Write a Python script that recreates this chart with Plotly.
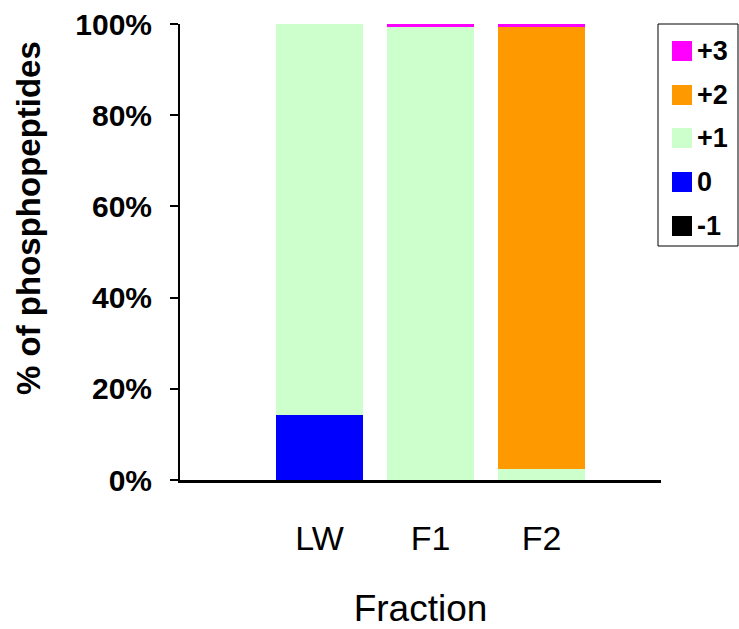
import plotly.graph_objects as go

# Share of phosphopeptides per net charge state in each fraction (%)
fractions = ["LW", "F1", "F2"]
charge_labels = ["-1", "0", "+1", "+2", "+3"]
charge_colors = ["#000000", "#0000FF", "#CCFFCC", "#FF9900", "#FF00FF"]
minus1 = [0.0, 0.0, 0.0]
zero = [14.3, 0.0, 0.0]
plus1 = [85.7, 99.4, 2.4]
plus2 = [0.0, 0.0, 97.0]
plus3 = [0.0, 0.6, 0.6]
y_ticks = [0, 20, 40, 60, 80, 100]
y_tick_labels = ["0%", "20%", "40%", "60%", "80%", "100%"]

series = [minus1, zero, plus1, plus2, plus3]

W, H = 739, 629
L, R, T, B = 180, 78, 24, 149
FONT = "Liberation Sans, Arial, sans-serif"

fig = go.Figure()
for label, color, values in zip(charge_labels, charge_colors, series):
    fig.add_trace(go.Bar(
        x=fractions, y=values, name=label, width=0.78,
        marker=dict(color=color, line=dict(width=0)),
        showlegend=False, cliponaxis=False,
    ))

fig.update_layout(
    width=W, height=H,
    margin=dict(l=L, r=R, t=T, b=B, autoexpand=False),
    barmode="stack",
    plot_bgcolor="white", paper_bgcolor="white",
    font=dict(family=FONT, color="black"),
    xaxis=dict(
        type="category", range=[-1.257, 3.076],
        showline=True, linecolor="black", linewidth=3,
        ticks="", showgrid=False, zeroline=False,
        tickfont=dict(size=34), ticklabelstandoff=26,
        title=dict(text="Fraction", font=dict(size=37), standoff=42),
        automargin=False,
    ),
    yaxis=dict(
        range=[0, 100], tickvals=y_ticks, ticktext=y_tick_labels,
        showline=True, linecolor="black", linewidth=2,
        ticks="outside", ticklen=8, tickwidth=1.5, tickcolor="black",
        showgrid=False, zeroline=False,
        tickfont=dict(size=30, weight="bold"), ticklabelstandoff=12,
        automargin=False,
    ),
)

# Pixel-to-paper helpers for the legend and the y title
pw, ph = W - L - R, H - T - B


def px_x(p):
    return (p - L) / pw


def px_y(p):
    return (H - B - p) / ph


fig.add_annotation(xref="paper", yref="paper", x=px_x(28), y=px_y(218),
                   text="% of phosphopeptides", textangle=-90, showarrow=False,
                   xanchor="center", yanchor="middle",
                   font=dict(size=33, weight="bold"))

box_left, box_top, box_right, box_bottom = 658, 24, 738, 246
fig.add_shape(type="rect", xref="paper", yref="paper",
              x0=px_x(box_left), x1=px_x(box_right),
              y0=px_y(box_bottom), y1=px_y(box_top),
              line=dict(color="black", width=1), fillcolor="white")

row_centers = [51, 95, 138, 182, 226]
legend_order = list(range(len(charge_labels)))[::-1]
for yc, idx in zip(row_centers, legend_order):
    fig.add_shape(type="rect", xref="paper", yref="paper",
                  x0=px_x(672), x1=px_x(692),
                  y0=px_y(yc + 10), y1=px_y(yc - 10),
                  line=dict(width=0), fillcolor=charge_colors[idx])
    fig.add_annotation(xref="paper", yref="paper",
                       x=px_x(695), y=px_y(yc), xanchor="left", yanchor="middle",
                       text=charge_labels[idx], showarrow=False,
                       font=dict(size=27, weight="bold"))

fig.write_html("out.html")
